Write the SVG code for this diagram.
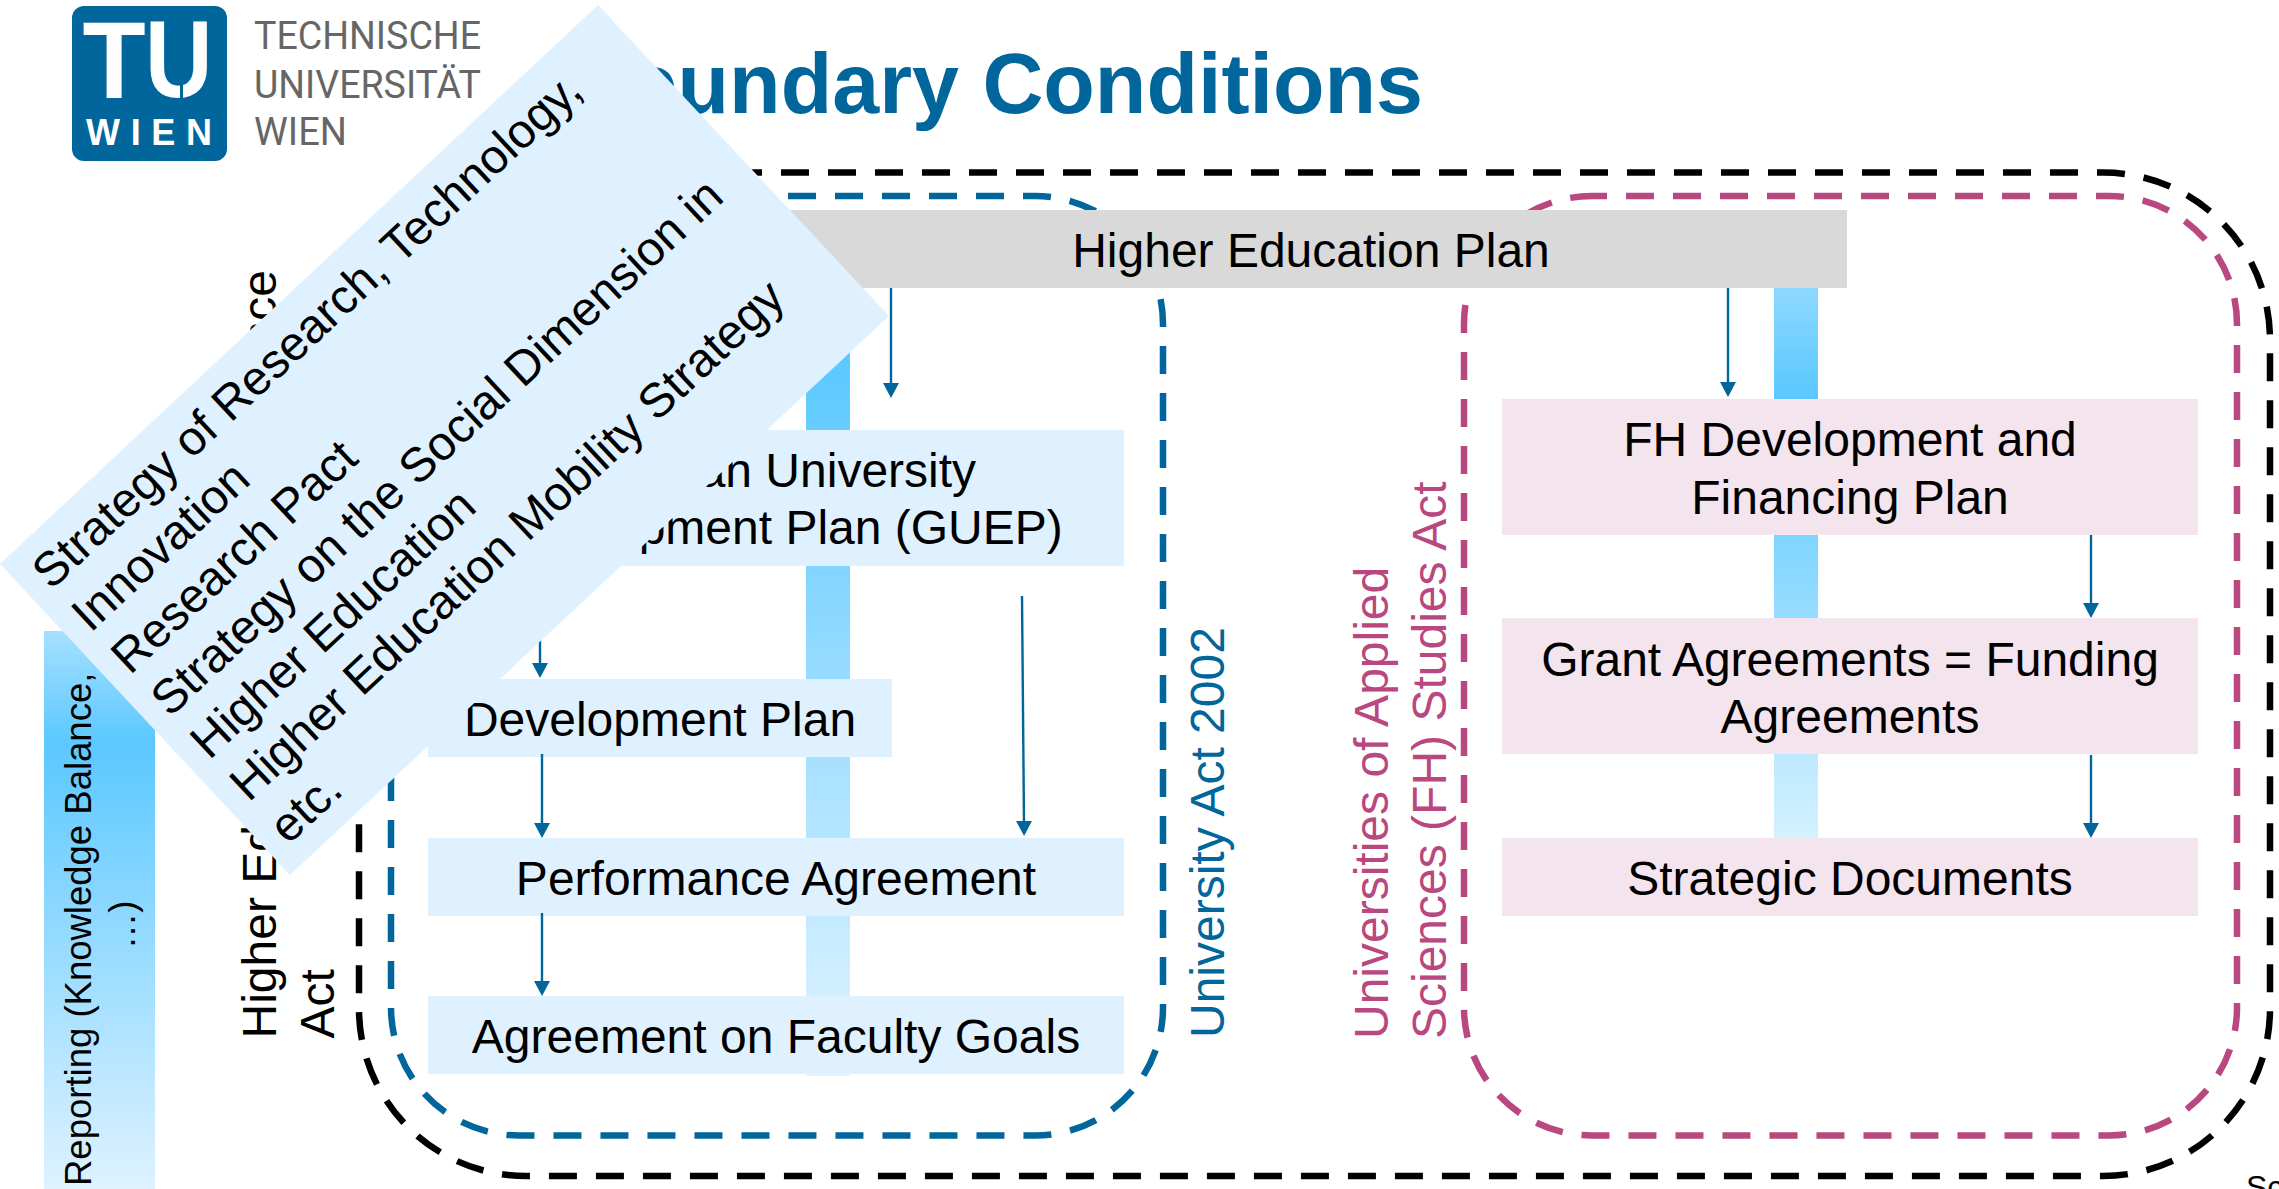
<svg xmlns="http://www.w3.org/2000/svg" width="2279" height="1189" viewBox="0 0 2279 1189">
<style>
text{font-family:"Liberation Sans",Arial,sans-serif;fill:#000;font-size:48px}
.c{text-anchor:middle}
.dash{fill:none;stroke-width:6.5;stroke-dasharray:28 19}
.conn{stroke:#00669B;stroke-width:2.4;fill:none;marker-end:url(#ah)}
.blue{fill:#DFF1FF}.pink{fill:#F4E4EE}
.lg{font-family:"Roboto","Open Sans",sans-serif;font-size:38px;fill:#666}
</style>
<defs>
<marker id="ah" markerUnits="userSpaceOnUse" markerWidth="15" markerHeight="16" viewBox="0 0 15 16" refX="3" refY="8" orient="auto"><path d="M0,0L15,8L0,16Z" fill="#00669B"/></marker>
<linearGradient id="gFar" gradientUnits="userSpaceOnUse" x1="0" y1="631" x2="0" y2="1189"><stop offset="0" stop-color="#A6E0FF"/><stop offset=".2" stop-color="#5BC8FF"/><stop offset="1" stop-color="#DEF2FF"/></linearGradient>
<linearGradient id="gL" gradientUnits="userSpaceOnUse" x1="0" y1="354" x2="0" y2="1076"><stop offset="0" stop-color="#5AC8FF"/><stop offset="1" stop-color="#E2F4FF"/></linearGradient>
<linearGradient id="gR" gradientUnits="userSpaceOnUse" x1="0" y1="288" x2="0" y2="838"><stop offset="0" stop-color="#8ED8FF"/><stop offset=".2" stop-color="#5AC8FF"/><stop offset="1" stop-color="#D4F1FF"/></linearGradient>
</defs>
<g id="logo">
<rect x="72" y="6" width="155" height="155" rx="12" fill="#00669B"/>
<text transform="translate(82.5,98) scale(.94,1)" font-weight="bold" style="font-size:110px;fill:#fff">T</text>
<text transform="translate(145,97) scale(.85,1)" font-weight="bold" style="font-size:110px;fill:#fff">U</text>
<rect x="180" y="82" width="3" height="18" fill="#00669B"/>
<text x="86" y="145" textLength="126" lengthAdjust="spacing" font-weight="bold" style="font-size:36px;fill:#fff">WIEN</text>
<text class="lg" x="254" y="49.3" textLength="227" lengthAdjust="spacingAndGlyphs">TECHNISCHE</text>
<text class="lg" x="254" y="97.5" textLength="227" lengthAdjust="spacingAndGlyphs">UNIVERSITÄT</text>
<text class="lg" x="254" y="144.5" textLength="93" lengthAdjust="spacingAndGlyphs">WIEN</text>
</g>
<g id="title"><text x="1423" y="112.5" text-anchor="end" font-weight="bold" style="font-size:84.4px;fill:#00669B">Boundary Conditions</text></g>
<g id="bar-reporting"><rect x="44" y="631" width="111" height="558" fill="url(#gFar)"/>
<g transform="translate(90.5,1186) rotate(-90)"><text style="font-size:36.5px">Reporting (Knowledge Balance,</text></g>
<g transform="translate(135,925) rotate(-90)"><text class="c" style="font-size:36.5px">…)</text></g></g>
<g id="bar-uni"><rect x="806" y="288" width="44" height="788" fill="url(#gL)"/></g>
<g id="bar-fh"><rect x="1774" y="288" width="44" height="550" fill="url(#gR)"/></g>
<g id="frame-hqa"><rect class="dash" x="359" y="172.5" width="1911" height="1003.5" rx="167" stroke="#000" stroke-dashoffset="27"/></g>
<g id="frame-ug"><rect class="dash" x="391" y="196" width="772" height="939.5" rx="128" stroke="#00669B" stroke-dashoffset="13"/></g>
<g id="frame-fh"><rect class="dash" x="1464" y="196" width="773" height="939.5" rx="128" stroke="#B8487F" stroke-dashoffset="13"/></g>
<g id="label-hqa" transform="translate(275.5,1038.5) rotate(-90)"><text>Higher Education Quality Assurance</text><text y="58">Act</text></g>
<g id="label-ug" transform="translate(1223.5,1038) rotate(-90)"><text style="fill:#00669B">University Act 2002</text></g>
<g id="label-fh" transform="translate(1387.5,1039) rotate(-90)"><text style="fill:#B8487F">Universities of Applied</text><text y="58" style="fill:#B8487F">Sciences (FH) Studies Act</text></g>
<g id="node-hep"><rect x="773" y="210" width="1074" height="78" fill="#D9D9D9"/><text class="c" x="1311" y="267.4">Higher Education Plan</text></g>
<g id="node-guep"><rect class="blue" x="428" y="430" width="696" height="136"/><text class="c" x="776" y="487.4">Austrian University</text><text class="c" x="776" y="544.4">Development Plan (GUEP)</text></g>
<g id="node-dev"><rect class="blue" x="428" y="679" width="464" height="78"/><text class="c" x="660" y="735.8">Development Plan</text></g>
<g id="node-perf"><rect class="blue" x="428" y="838" width="696" height="78"/><text class="c" x="776" y="895">Performance Agreement</text></g>
<g id="node-fac"><rect class="blue" x="428" y="996" width="696" height="78"/><text class="c" x="776" y="1053.4">Agreement on Faculty Goals</text></g>
<g id="node-fhplan"><rect class="pink" x="1502" y="399" width="696" height="136"/><text class="c" x="1850" y="456.4">FH Development and</text><text class="c" x="1850" y="514.4">Financing Plan</text></g>
<g id="node-grant"><rect class="pink" x="1502" y="618" width="696" height="136"/><text class="c" x="1850" y="676.4">Grant Agreements = Funding</text><text class="c" x="1850" y="733">Agreements</text></g>
<g id="node-strat"><rect class="pink" x="1502" y="838" width="696" height="78"/><text class="c" x="1850" y="895">Strategic Documents</text></g>
<g id="connectors">
<line class="conn" x1="891" y1="288" x2="891" y2="386"/>
<line class="conn" x1="540" y1="566" x2="540" y2="666"/>
<line class="conn" x1="542" y1="754" x2="542" y2="826"/>
<line class="conn" x1="542" y1="913" x2="542" y2="984"/>
<line class="conn" x1="1022" y1="596" x2="1024" y2="824"/>
<line class="conn" x1="1728" y1="288" x2="1728" y2="385"/>
<line class="conn" x1="2091" y1="535" x2="2091" y2="606"/>
<line class="conn" x1="2091" y1="755" x2="2091" y2="826"/>
</g>
<g id="node-strategies"><polygon points="598,5 889,316 290,875 0,564" fill="#DFF1FF"/>
<g transform="translate(51,591) rotate(-43)">
<text>Strategy of Research, Technology,</text>
<text y="58">Innovation</text>
<text y="116">Research Pact</text>
<text y="174">Strategy on the Social Dimension in</text>
<text y="232">Higher Education</text>
<text y="290">Higher Education Mobility Strategy</text>
<text y="348">etc.</text>
</g></g>
<g id="source"><text x="2246" y="1198" style="font-size:32px">Sc</text></g>
</svg>
